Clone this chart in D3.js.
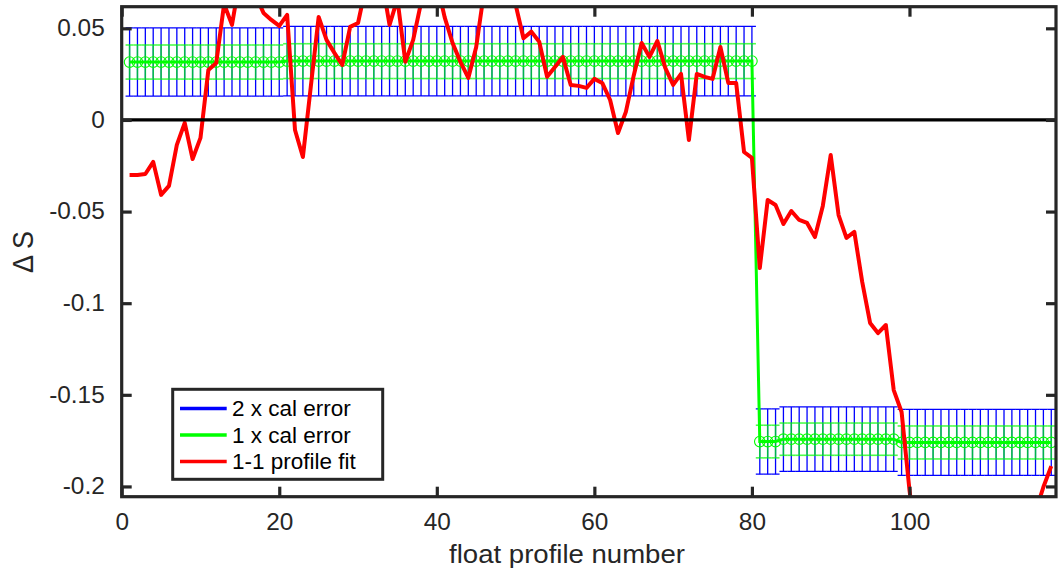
<!DOCTYPE html>
<html><head><meta charset="utf-8">
<script src="https://cdn.jsdelivr.net/npm/d3@7"></script>
<style>
html,body{margin:0;padding:0;background:#fff;}
svg{display:block;font-family:"Liberation Sans",Arial,Helvetica,sans-serif;}
</style></head>
<body>
<svg id="chart" width="1059" height="573"></svg>
<script>
// ---------- data ----------
const profiles = [
 1,2,3,4,5,6,7,8,9,10, 11,12,13,14,15,16,17,18,19,20,
 21,22,23,24,25,26,27,28,29,30, 31,32,33,34,35,36,37,38,39,40,
 41,42,43,44,45,46,47,48,49,50, 51,52,53,54,55,56,57,58,59,60,
 61,62,63,64,65,66,67,68,69,70, 71,72,73,74,75,76,77,78,79,80,
 81,82,83,84,85,86,87,88,89,90, 91,92,93,94,95,96,97,98,99,100,
 101,102,103,104,105,106,107,108,109,110, 111,112,113,114,115,116,117,118
];
const calOffset = [
 0.0316,0.0316,0.0316,0.0316,0.0316,0.0316,0.0316,0.0316,0.0316,0.0316,
 0.0316,0.0316,0.0316,0.0316,0.0316,0.0316,0.0316,0.0316,0.0316,0.0316,
 0.0321,0.0321,0.0321,0.0321,0.0321,0.0321,0.0321,0.0321,0.0321,0.0321,
 0.0321,0.0321,0.0321,0.0321,0.0321,0.0321,0.0321,0.0321,0.0321,0.0321,
 0.0321,0.0321,0.0321,0.0321,0.0321,0.0321,0.0321,0.0321,0.0321,0.0321,
 0.0321,0.0321,0.0321,0.0321,0.0321,0.0321,0.0321,0.0321,0.0321,0.0321,
 0.0321,0.0321,0.0321,0.0321,0.0321,0.0321,0.0321,0.0321,0.0321,0.0321,
 0.0321,0.0321,0.0321,0.0321,0.0321,0.0321,0.0321,0.0321,0.0321,0.0321,
 -0.1755,-0.1755,-0.1755,-0.1742,-0.1742,-0.1742,-0.1742,-0.1742,-0.1742,-0.1742,
 -0.1742,-0.1742,-0.1742,-0.1742,-0.1742,-0.1742,-0.1742,-0.1742,-0.1760,-0.1760,
 -0.1760,-0.1760,-0.1760,-0.1760,-0.1760,-0.1760,-0.1760,-0.1760,-0.1760,-0.1760,
 -0.1760,-0.1760,-0.1760,-0.1760,-0.1760,-0.1760,-0.1760,-0.1760
];
const calError = [
 0.0093,0.0093,0.0093,0.0093,0.0093,0.0093,0.0093,0.0093,0.0093,0.0093,
 0.0093,0.0093,0.0093,0.0093,0.0093,0.0093,0.0093,0.0093,0.0093,0.0093,
 0.0095,0.0095,0.0095,0.0095,0.0095,0.0095,0.0095,0.0095,0.0095,0.0095,
 0.0095,0.0095,0.0095,0.0095,0.0095,0.0095,0.0095,0.0095,0.0095,0.0095,
 0.0095,0.0095,0.0095,0.0095,0.0095,0.0095,0.0095,0.0095,0.0095,0.0095,
 0.0095,0.0095,0.0095,0.0095,0.0095,0.0095,0.0095,0.0095,0.0095,0.0095,
 0.0095,0.0095,0.0095,0.0095,0.0095,0.0095,0.0095,0.0095,0.0095,0.0095,
 0.0095,0.0095,0.0095,0.0095,0.0095,0.0095,0.0095,0.0095,0.0095,0.0095,
 0.0089,0.0089,0.0089,0.0088,0.0088,0.0088,0.0088,0.0088,0.0088,0.0088,
 0.0088,0.0088,0.0088,0.0088,0.0088,0.0088,0.0088,0.0088,0.0090,0.0090,
 0.0090,0.0090,0.0090,0.0090,0.0090,0.0090,0.0090,0.0090,0.0090,0.0090,
 0.0090,0.0090,0.0090,0.0090,0.0090,0.0090,0.0090,0.0090
];
const profileFit = [
 -0.0300,-0.0300,-0.0295,-0.0229,-0.0409,-0.0360,-0.0136,-0.0016,-0.0213,-0.0098,
 0.0273,0.0311,0.0633,0.0519,0.0770,0.0750,0.0680,0.0584,0.0546,0.0513,
 0.0573,-0.0055,-0.0202,0.0180,0.0562,0.0437,0.0366,0.0300,0.0508,0.0529,
 0.0730,0.0800,0.0770,0.0519,0.0660,0.0317,0.0437,0.0640,0.0800,0.0750,
 0.0560,0.0420,0.0317,0.0229,0.0398,0.0700,0.0800,0.0850,0.0750,0.0630,
 0.0446,0.0482,0.0427,0.0236,0.0289,0.0344,0.0191,0.0186,0.0175,0.0224,
 0.0202,0.0109,-0.0071,0.0044,0.0243,0.0420,0.0344,0.0431,0.0284,0.0191,
 0.0251,-0.0109,0.0251,0.0235,0.0224,0.0398,0.0202,0.0202,-0.0175,-0.0207,
 -0.0808,-0.0437,-0.0464,-0.0568,-0.0497,-0.0546,-0.0562,-0.0639,-0.0469,-0.0191,
 -0.0519,-0.0644,-0.0611,-0.0884,-0.1108,-0.1163,-0.1119,-0.1474,-0.1594,-0.2020,
 -0.2350,-0.2450,-0.2400,-0.2300,-0.2400,-0.2500,-0.2300,-0.2400,-0.2450,-0.2350,
 -0.2300,-0.2400,-0.2350,-0.2250,-0.2200,-0.2140,-0.2003,-0.1889
];
const xTicks = [0,20,40,60,80,100];
const yTicks = [-0.2,-0.15,-0.1,-0.05,0,0.05];
const yTickLabels = ["-0.2","-0.15","-0.1","-0.05","0","0.05"];
const legendLabels = ["2 x cal error","1 x cal error","1-1 profile fit"];
const legendColors = ["#0000ff","#00ff00","#ff0000"];

// ---------- setup ----------
const svg = d3.select("#chart");
const L = 121.7, R = 1056, T = 6.7, B = 496.7;
const x = d3.scaleLinear().domain([0, 118.6]).range([L, R]);
const y = d3.scaleLinear().domain([-0.2056, 0.0618]).range([B, T]);
const axisColor = "#262626";
const sx = 1.06;

const data = profiles.map((p,i)=>({p, c:calOffset[i], e:calError[i], r:profileFit[i]}));

svg.append("defs").append("clipPath").attr("id","clip")
  .append("rect").attr("x",L).attr("y",T).attr("width",R-L).attr("height",B-T);

const plot = svg.append("g").attr("clip-path","url(#clip)");

function errorBars(k, color, width, opacity){
  const g = plot.append("g").attr("stroke",color).attr("stroke-width",width).attr("opacity",opacity);
  const cap = 4;
  data.forEach(d=>{
    const xp = x(d.p), y1 = y(d.c + k*d.e), y0 = y(d.c - k*d.e);
    g.append("line").attr("x1",xp).attr("x2",xp).attr("y1",y1).attr("y2",y0);
    g.append("line").attr("x1",xp-cap).attr("x2",xp+cap).attr("y1",y1).attr("y2",y1);
    g.append("line").attr("x1",xp-cap).attr("x2",xp+cap).attr("y1",y0).attr("y2",y0);
  });
  return g;
}
errorBars(2, "#0000ff", 1.3, 1);
errorBars(1, "#00ff00", 1.6, 0.7);

// green center line + circle markers
plot.append("path").datum(data)
  .attr("fill","none").attr("stroke","#00ff00").attr("stroke-width",3)
  .attr("d", d3.line().x(d=>x(d.p)).y(d=>y(d.c)));
plot.append("g").selectAll("circle").data(data).join("circle")
  .attr("cx",d=>x(d.p)).attr("cy",d=>y(d.c)).attr("r",5.3)
  .attr("fill","none").attr("stroke","#00ff00").attr("stroke-width",1.1);

// red profile fit
plot.append("path").datum(data)
  .attr("fill","none").attr("stroke","#ff0000").attr("stroke-width",4)
  .attr("stroke-linejoin","round")
  .attr("d", d3.line().x(d=>x(d.p)).y(d=>y(d.r)));

// zero line
plot.append("line").attr("x1",L).attr("x2",R).attr("y1",y(0)).attr("y2",y(0))
  .attr("stroke","#000").attr("stroke-width",3.2);

// ---------- axes ----------
function styleAxis(g){
  g.select(".domain").remove();
  g.selectAll(".tick line").attr("stroke",axisColor).attr("stroke-width",3.2);
  g.selectAll(".tick text").attr("fill",axisColor).style("font-size","23px")
   .style("font-family","'Liberation Sans',Arial,sans-serif");
}
const xb = svg.append("g").attr("transform",`translate(0,${B})`)
  .call(d3.axisBottom(x).tickValues(xTicks).tickSize(-10).tickPadding(17).tickFormat(d3.format("d")));
styleAxis(xb);
xb.selectAll(".tick text").attr("transform",`scale(${sx},1)`);

const xt = svg.append("g").attr("transform",`translate(0,${T})`)
  .call(d3.axisTop(x).tickValues(xTicks).tickSize(-10).tickFormat(""));
styleAxis(xt);

const yl = svg.append("g").attr("transform",`translate(${L},0)`)
  .call(d3.axisLeft(y).tickValues(yTicks).tickSize(-10).tickPadding(17/sx)
    .tickFormat((d,i)=>yTickLabels[i]));
styleAxis(yl);
yl.selectAll(".tick text").attr("transform",`scale(${sx},1)`);

const yr = svg.append("g").attr("transform",`translate(${R},0)`)
  .call(d3.axisRight(y).tickValues(yTicks).tickSize(-10).tickFormat(""));
styleAxis(yr);

// frame
svg.append("rect").attr("x",L).attr("y",T).attr("width",R-L).attr("height",B-T)
  .attr("fill","none").attr("stroke",axisColor).attr("stroke-width",3.2);

// axis labels
svg.append("text").attr("transform",`translate(567,563) scale(${sx},1)`)
  .attr("text-anchor","middle").attr("fill",axisColor).style("font-size","26px")
  .text("float profile number");
svg.append("text").attr("transform",`translate(33,252) rotate(-90) scale(1,${sx})`)
  .attr("text-anchor","middle").attr("fill",axisColor).style("font-size","27px")
  .text("\u0394 S");

// ---------- legend ----------
const lg = svg.append("g");
lg.append("rect").attr("x",172.7).attr("y",389.3).attr("width",210).attr("height",90)
  .attr("fill","#fff").attr("stroke",axisColor).attr("stroke-width",3);
legendLabels.forEach((t,i)=>{
  const cy = 408.5 + i*26.5;
  lg.append("line").attr("x1",180).attr("x2",226.7).attr("y1",cy).attr("y2",cy)
    .attr("stroke",legendColors[i]).attr("stroke-width",3.6);
  lg.append("text").attr("x",232).attr("y",cy+7.8).attr("fill","#000")
    .style("font-size","22.5px").text(t);
});
</script>
</body></html>
